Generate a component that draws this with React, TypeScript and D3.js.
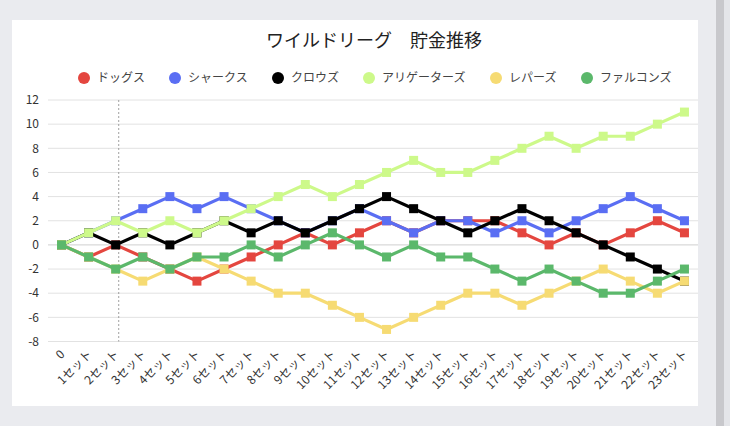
import React from 'react';
import * as d3 from 'd3';

// set labels along the x axis
const setLabels = [
  '0', '1セット', '2セット', '3セット', '4セット', '5セット', '6セット', '7セット',
  '8セット', '9セット', '10セット', '11セット', '12セット', '13セット', '14セット',
  '15セット', '16セット', '17セット', '18セット', '19セット', '20セット', '21セット',
  '22セット', '23セット',
];

const teams = ['ドッグス', 'シャークス', 'クロウズ', 'アリゲーターズ', 'レパーズ', 'ファルコンズ'];
const teamColors = ['#e4463f', '#5a6ef3', '#000000', '#cdf98a', '#f6db73', '#5bb86b'];

// 貯金 per team
const dogs = [0, -1, 0, -1, -2, -3, -2, -1, 0, 1, 0, 1, 2, 1, 2, 2, 2, 1, 0, 1, 0, 1, 2, 1];
const sharks = [0, 1, 2, 3, 4, 3, 4, 3, 2, 1, 2, 3, 2, 1, 2, 2, 1, 2, 1, 2, 3, 4, 3, 2];
const crows = [0, 1, 0, 1, 0, 1, 2, 1, 2, 1, 2, 3, 4, 3, 2, 1, 2, 3, 2, 1, 0, -1, -2, -3];
const alligators = [0, 1, 2, 1, 2, 1, 2, 3, 4, 5, 4, 5, 6, 7, 6, 6, 7, 8, 9, 8, 9, 9, 10, 11];
const leopards = [0, -1, -2, -3, -2, -1, -2, -3, -4, -4, -5, -6, -7, -6, -5, -4, -4, -5, -4, -3, -2, -3, -4, -3];
const falcons = [0, -1, -2, -1, -2, -1, -1, 0, -1, 0, 1, 0, -1, 0, -1, -1, -2, -3, -2, -3, -4, -4, -3, -2];

const yTicks = [-8, -6, -4, -2, 0, 2, 4, 6, 8, 10, 12];

const seriesValues = [dogs, sharks, crows, alligators, leopards, falcons];

const W = 730;
const H = 426;
const FONT = '"Noto Sans CJK JP", "Noto Sans", sans-serif';

export default function App() {
  const x = d3.scalePoint<string>().domain(setLabels).range([48, 698]).padding(0.5);
  const y = d3.scaleLinear().domain([-8, 12]).range([341.5, 100]);

  const line = d3
    .line<number>()
    .x((_, i) => x(setLabels[i]) as number)
    .y((d) => y(d));

  // legend layout (approx 12px per full-width char)
  const itemWidths = teams.map((t) => 13 + t.length * 12);
  const gap = 30;
  const totalW = d3.sum(itemWidths) + gap * (teams.length - 1);
  let cursor = 372 - totalW / 2;
  const legendX = itemWidths.map((w) => {
    const pos = cursor;
    cursor += w + gap;
    return pos;
  });

  const cursorX = (x(setLabels[2]) as number) + 3;

  return (
    <div style={{ position: 'fixed', left: 0, top: 0, width: W, height: H }}>
      <svg width={W} height={H} style={{ display: 'block', fontFamily: FONT }}>
        <rect x={0} y={0} width={W} height={H} fill="#eaebef" />
        <rect x={716} y={0} width={8} height={H} fill="#c8c8cc" />
        <rect x={724} y={0} width={6} height={H} fill="#e4e5e9" />
        <rect x={12} y={20} width={686} height={386} fill="#ffffff" />

        <text x={374} y={47} textAnchor="middle" fontSize={18} fill="#222">
          ワイルドリーグ　貯金推移
        </text>

        {teams.map((t, i) => (
          <g key={t} transform={`translate(${legendX[i]},78)`}>
            <circle cx={6} cy={0} r={6} fill={teamColors[i]} />
            <text x={19} y={0} dy="0.36em" fontSize={12} fill="#444">
              {t}
            </text>
          </g>
        ))}

        {yTicks.map((t) => (
          <g key={t}>
            <line
              x1={48}
              x2={698}
              y1={y(t)}
              y2={y(t)}
              stroke={t === 0 ? '#cfcfcf' : '#e2e2e2'}
              strokeWidth={1}
            />
            <text x={39} y={y(t)} dy="0.35em" textAnchor="end" fontSize={12} fill="#333">
              {t}
            </text>
          </g>
        ))}

        <line
          x1={cursorX}
          x2={cursorX}
          y1={y(12)}
          y2={y(-8)}
          stroke="#8a8a8a"
          strokeWidth={0.8}
          strokeDasharray="2,2"
        />

        {seriesValues.map((vals, si) => (
          <g key={teams[si]}>
            <path d={line(vals) || ''} fill="none" stroke={teamColors[si]} strokeWidth={3.2} strokeLinejoin="round" />
            {vals.map((v, i) => (
              <rect
                key={i}
                x={(x(setLabels[i]) as number) - 4.5}
                y={y(v) - 4.5}
                width={9}
                height={9}
                fill={teamColors[si]}
              />
            ))}
          </g>
        ))}

        {setLabels.map((l) => (
          <text
            key={l}
            transform={`translate(${(x(l) as number) + 4},355) rotate(-45)`}
            textAnchor="end"
            fontSize={12}
            fill="#333"
          >
            {l}
          </text>
        ))}
      </svg>
    </div>
  );
}
